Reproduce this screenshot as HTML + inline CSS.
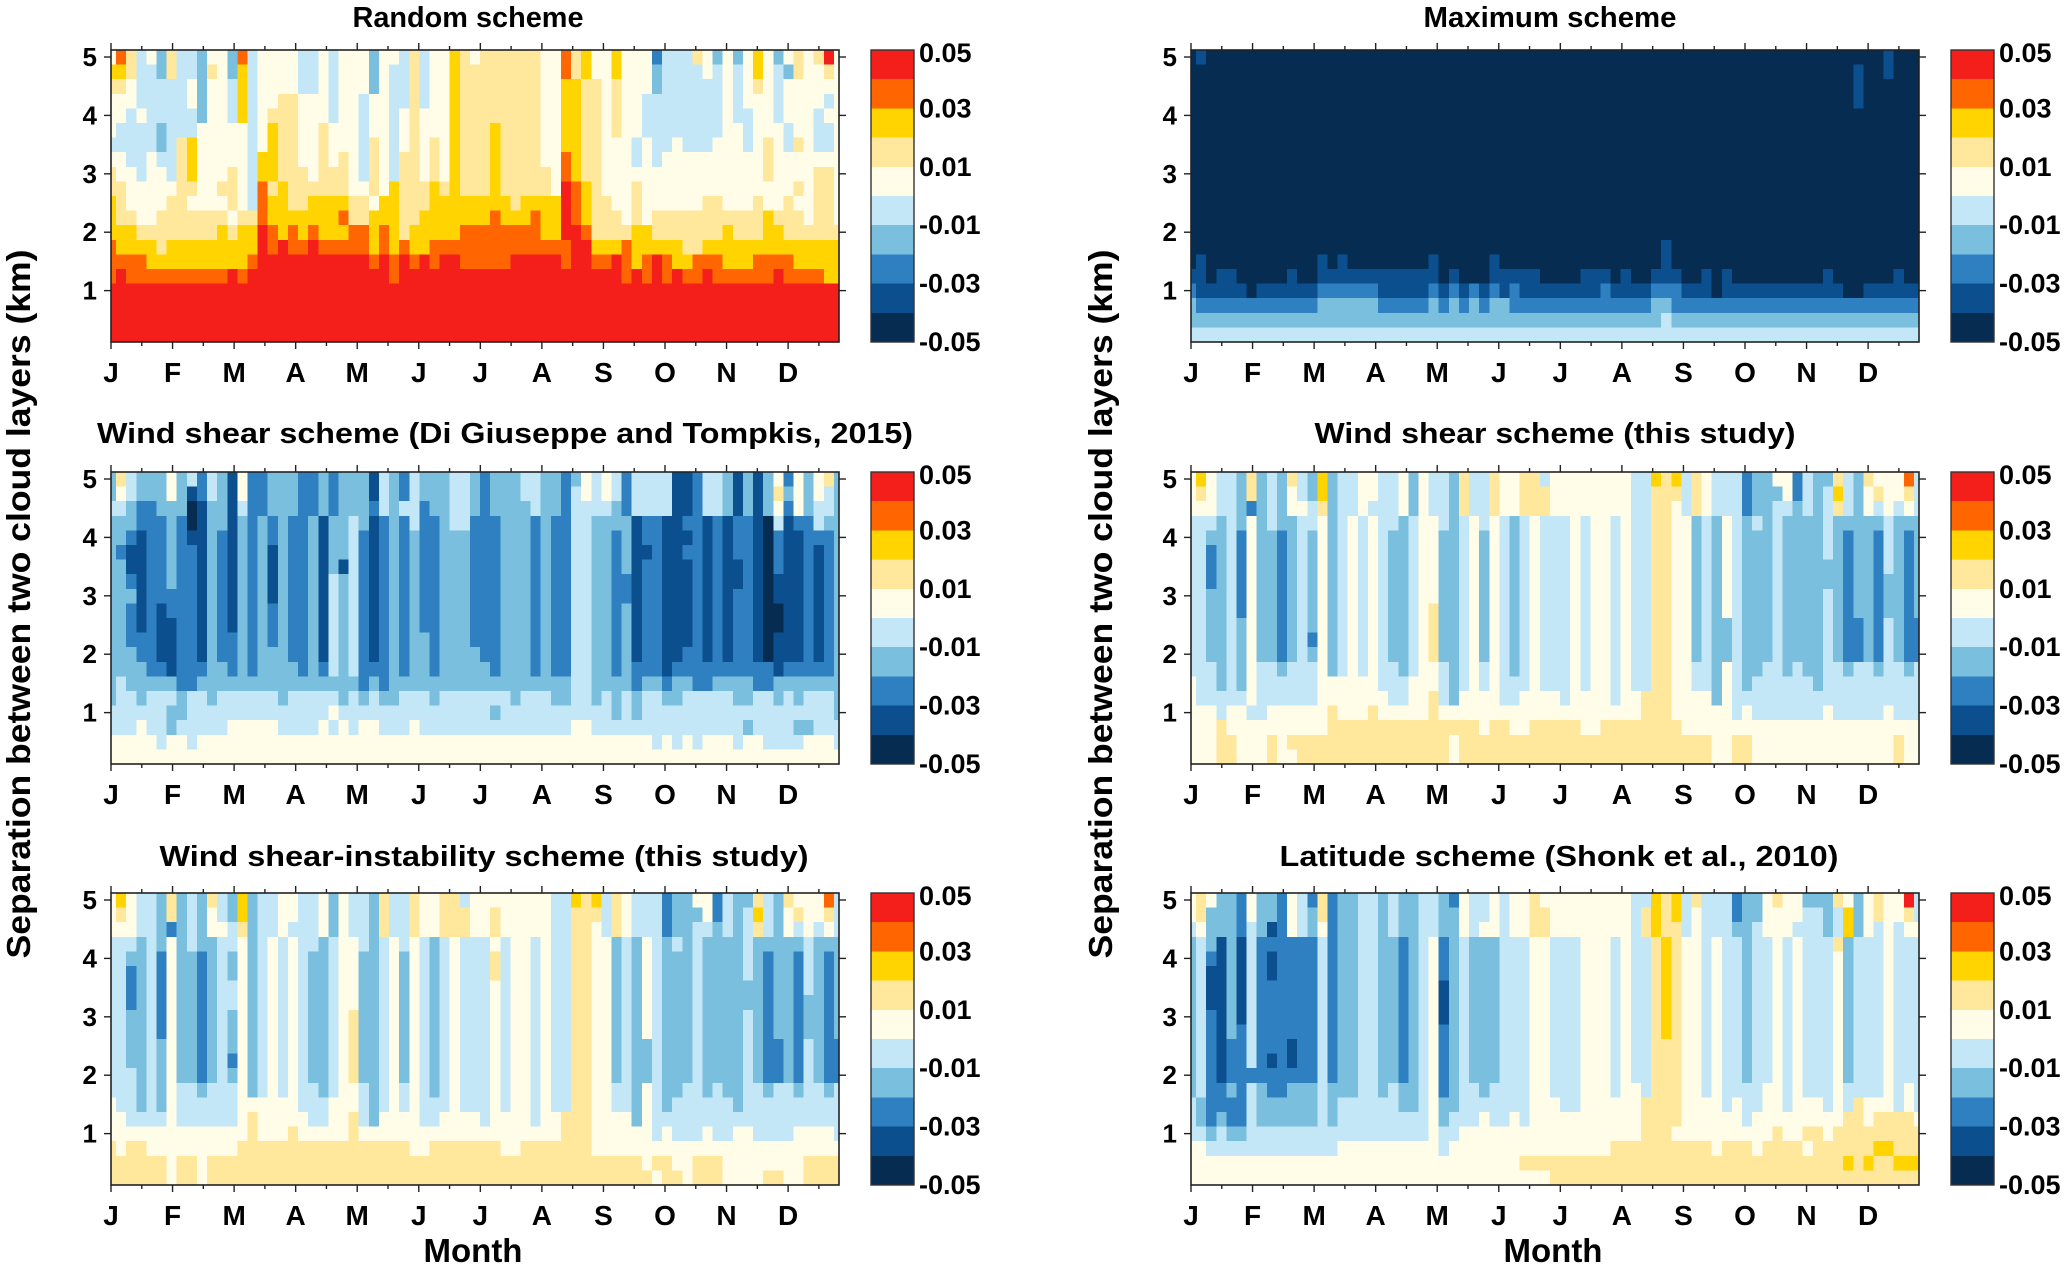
<!DOCTYPE html>
<html><head><meta charset="utf-8"><style>
html,body{margin:0;padding:0;background:#fff;}
svg{display:block;font-family:"Liberation Sans",Arial,sans-serif;}
</style></head><body>
<svg id="fig" xmlns="http://www.w3.org/2000/svg" width="2067" height="1266" viewBox="0 0 2067 1266">
<rect x="0" y="0" width="2067" height="1266" fill="#fff"/>
</svg>
<script>
const months = ["J","F","M","A","M","J","J","A","S","O","N","D"];
const yTicks = [1,2,3,4,5];
const cbLabels = ["0.05","0.03","0.01","-0.01","-0.03","-0.05"];
const levelColors = ["#062c52","#0b4f8f","#2e80c1","#7bbfdf","#c3e7f6","#fffde8","#ffe79c","#ffd400","#ff6500","#f41f1b"];

const randomRows = [
"5864536443 5538455554 4545553554 6455765666 6665586755 7555244465 3535753565 695",
"7764436443 6537455554 4545553544 6455766666 6665586755 7555344445 4545754365 565",
"6654444453 5547455554 4545553544 6455766666 6665577665 6555344444 4545654555 555",
"5554444453 5547455665 5545545544 6455766666 6665577665 6554444444 4545554555 545",
"5545444443 5547456665 5545545545 6555766666 6665577665 6554444444 4544554555 455",
"5444434445 5555457665 5655545545 6555766676 6665577665 6554444444 4554555455 445",
"4444434675 5555457665 5655546545 6565766676 6665577665 5545445444 5554565465 445",
"5544544675 5555477665 5656546546 6565766676 6665587665 5545455555 5555565555 555",
"6554554675 5565477666 5666546546 6565766676 6666587665 5555555555 5555565555 665",
"6655555665 5665486766 6666556576 6676766676 6666598765 5565555555 5555555565 665",
"7655556655 5565487766 7777665776 6677777777 6777798766 5565555556 6555655655 665",
"7665566666 6656687777 7778667776 6777777787 7787798766 6565666666 6666676665 665",
"7776666666 6767798787 8777887876 7777788888 8887799866 6677666666 6766677666 666",
"8777767777 7777798988 9888887878 7788888888 8888889977 7877777667 7777777777 777",
"8888777777 7777899999 9999998989 8989988888 9999989988 9878987788 8777888877 777",
"8988888888 8898999999 9999999989 9999999999 9999999999 9898989889 8888889888 877",
"9999999999 9999999999 9999999999 9999999999 9999999999 9999999999 9999999999 999",
"9999999999 9999999999 9999999999 9999999999 9999999999 9999999999 9999999999 999",
"9999999999 9999999999 9999999999 9999999999 9999999999 9999999999 9999999999 999",
"9999999999 9999999999 9999999999 9999999999 9999999999 9999999999 9999999999 999"
];
const maximumRows = [
"0100000000 0000000000 0000000000 0000000000 0000000000 0000000000 0000000001 000",
"0000000000 0000000000 0000000000 0000000000 0000000000 0000000000 0000001001 000",
"0000000000 0000000000 0000000000 0000000000 0000000000 0000000000 0000001000 000",
"0000000000 0000000000 0000000000 0000000000 0000000000 0000000000 0000001000 000",
"0000000000 0000000000 0000000000 0000000000 0000000000 0000000000 0000000000 000",
"0000000000 0000000000 0000000000 0000000000 0000000000 0000000000 0000000000 000",
"0000000000 0000000000 0000000000 0000000000 0000000000 0000000000 0000000000 000",
"0000000000 0000000000 0000000000 0000000000 0000000000 0000000000 0000000000 000",
"0000000000 0000000000 0000000000 0000000000 0000000000 0000000000 0000000000 000",
"0000000000 0000000000 0000000000 0000000000 0000000000 0000000000 0000000000 000",
"0000000000 0000000000 0000000000 0000000000 0000000000 0000000000 0000000000 000",
"0000000000 0000000000 0000000000 0000000000 0000000000 0000000000 0000000000 000",
"0000000000 0000000000 0000000000 0000000000 0000000000 0000000000 0000000000 000",
"0000000000 0000000000 0000000000 0000000000 0000000100 0000000000 0000000000 000",
"0100000000 0001010000 0000100000 1000000000 0000000100 0000000000 0000000000 000",
"1101100000 1001111111 1111101000 1111100001 1101001110 0101000000 0001000000 100",
"2111110111 1112222221 1111212121 2121111111 1211112221 1101111111 1111100111 111",
"3222222222 2223333332 2222323232 3322222222 2222223322 2222222222 2222222222 222",
"3333333333 3333333333 3333333333 3333333333 3333333433 3333333333 3333333333 333",
"4444444444 4444444444 4444444444 4444444444 4444444444 4444444444 4444444444 444"
];
const giuseppeRows = [
"3643335342 4315223332 2323331432 4333443233 3443323545 4244441124 4313135253 563",
"3543335312 4315223332 2323331432 4333443233 3443324545 4244441124 4313136353 543",
"4432233301 3314223332 2323332434 4233443233 3343324444 3244441124 4313135253 443",
"3332223201 3313232322 3133431232 4223442223 3323224433 3312211221 2122104122 433",
"3321223211 3213232322 3133421232 3223332223 3323224433 2312211121 2122102112 223",
"3211223221 3213231322 3133421232 3223332223 3323224433 2311211221 2122102112 123",
"3311223221 3213231322 3131421232 3223332223 3323224433 2312211121 2112102112 123",
"3321223221 3213231322 3143421232 3223332223 3323224433 2212211121 2112101112 123",
"3331222221 3213231322 3143421232 3223332223 3323224433 2212211121 2122101112 123",
"3321212221 3213232322 3143421232 3223332223 3323224433 2312211121 2122100112 123",
"3321211221 3213232322 3143421232 3223332223 3323224433 2312211121 2122100112 123",
"3322211221 3223232322 3143421232 3323332223 3323224433 2312211121 2122101112 123",
"3332211221 3223233322 3143421232 3323333223 3323224433 2312211221 2122101112 123",
"3333221222 3323233332 3243422232 3323333323 3323224433 2322212222 2222221222 223",
"3433333223 3333333333 3333323233 3333333333 3333334433 3323323322 3333223333 333",
"3443444344 3444444344 4443434334 4434444444 3444334434 3434433444 4433443434 443",
"4444443344 4444444444 4454444444 4444444434 4444444444 3434444444 4444444444 443",
"4445443444 4455555444 4545455444 5444444444 4444445544 4444444444 4443444433 444",
"5555545545 5555555555 5555555555 5555555555 5555555555 5555454545 5545544445 554",
"5555555555 5555555555 5555555555 5555555555 5555555555 5555555555 5555555555 555"
];
const shearRows = [
"5754436343 6437344554 4535443644 6556645555 5555447674 6544423355 2433643655 584",
"5654436343 5437344554 4535443644 6556665555 5555446664 6544423335 2434743565 564",
"5554432343 5546344544 4535443644 6556665555 5555446654 6544423344 3434643545 454",
"4443435343 3445345454 4345543454 5434544454 5545446655 3435434343 3334333334 333",
"4433425332 3435345454 3345533453 5434544454 5545446655 3435433343 3334323324 323",
"4423425332 3435345454 3345533453 5434544454 5545446655 3435433343 3334323324 323",
"4423425332 3435345454 3345533453 5434544454 5545446655 3435433343 3333323324 323",
"4423425332 3435345454 3345533453 5434544454 5545446655 3435433343 3333323323 323",
"4433425332 3435345454 3345533453 5434544454 5545446655 3435433343 3334323323 323",
"4433425332 3435345454 3345633453 5434544454 5545446655 3435433343 3334323323 323",
"4433435332 3435345454 3345633453 5434544454 5545446655 3433433343 3334322324 322",
"4433435332 3425345454 3345633453 5434544454 5545446655 3433433343 3334322324 322",
"4433435332 3435345454 3345633453 5434544454 5545446655 3433433343 3334322324 322",
"4443435443 4445345454 4345543454 5434544454 5545446655 4435433443 4334434434 434",
"5443435444 4445555554 4455543454 5444544454 5545446655 4435434444 4434444444 444",
"5444445444 4445555555 4455643555 5445555455 5545566655 5535444444 4444444444 444",
"5554554455 5555655565 5555655555 5555555555 5555566655 5555454444 4445444445 444",
"5556555555 5555666666 6666666665 6655666665 5666666665 5555555555 5555555555 555",
"5556655565 6666666666 6666665666 6666666666 6666666666 6655665555 5555555555 655",
"5556655565 5666666666 6666665666 6666666666 6666666666 6655665555 5555555555 655"
];
const instabilityRows = [
"5754436343 6437344554 4535443644 6556645555 5555447674 6544423355 2433643655 584",
"5654436343 5437344554 4535443644 6556665565 5555446664 6544423335 2434743565 564",
"5554432343 5546344544 4535443644 6556665565 5555446654 6544423344 3434643545 454",
"4443435343 3445345454 4345543454 5434544454 5545446655 3435434343 3334333334 333",
"4433425332 3435345454 3345533453 5434544464 5545446655 3435433343 3334323324 323",
"4423425332 3435345454 3345533453 5434544464 5545446655 3435433343 3334323324 323",
"4423425332 3445345454 3345533453 5434544454 5545446655 3435433343 3333323324 323",
"4423425332 3445345454 3345533453 5434544454 5545446655 3435433343 3333323323 323",
"4433425332 3435345454 3345633453 5434544454 5545446655 3435433343 3334323323 323",
"4433425332 3435345454 3345633453 5434544454 5545446655 3435433343 3334323323 323",
"4433435332 3435345454 3345633453 5434544454 5545446655 3433433343 3334322324 322",
"4433435332 3425345454 3345633453 5434544454 5545446655 3433433343 3334322324 322",
"4443435332 3435345454 3345633453 5434544454 5545446655 3433433343 3334322324 322",
"4443435443 4445345454 4345543454 5434544454 5545446655 4435433443 4334434434 434",
"5443435444 4445555554 4455543454 5444544454 5545446655 4435434444 4434444444 444",
"5544445444 4445655555 4455643555 5445555455 5545566655 5535444444 4444444444 444",
"5555555555 5555655565 5555655555 5555555555 5555566655 5555454445 4455444455 554",
"6566555555 5556666666 6666666666 5566666665 5666666655 5555555555 5555555555 555",
"6666665665 6666666666 6666666666 6666666666 6666666666 6665665566 6555555556 666",
"6666665665 6666666666 6666666666 6666666666 6666666666 6666566566 6555566556 666"
];
const latitudeRows = [
"5653325332 5426233443 4334432544 5455655555 5555447674 6444233565 5333653565 594",
"5633325332 5436233443 4334433544 5455665555 5555467674 5444233555 5443473565 564",
"4533324312 5435233443 4334433545 5455665555 5555467664 5444334555 4443473545 455",
"3431314222 2224233443 3234523433 3444554445 5545446765 5454434454 5444634445 444",
"3421314212 2224233443 3234523433 3444554445 5545446765 5454434454 5444534445 444",
"3411314212 2224233443 3234523433 3444554445 5545446765 5454434454 5444534445 444",
"3411314222 2224233443 3234513433 3444554445 5545446765 5454434454 5444534445 444",
"3411314222 2224233443 3234513433 3444554445 5545446765 5454434454 5444534445 444",
"3421314222 2224233443 3234513433 3444554445 5545446765 5454434454 5444534445 444",
"3421324222 2224233443 3234523433 3444554445 5545446765 5454434454 5444534445 444",
"3421224222 1224233443 3234523433 3444554445 5545446665 5454434454 5444534445 444",
"3421224212 1224233443 3234523433 3444554445 5545446665 5454434454 5444534445 444",
"3421222222 2224233443 3234523433 3444554445 5545446665 5454434454 5444534445 444",
"3422324322 3334333443 4334523443 4444554445 5545546665 5454444554 5444544445 454",
"4322224333 3334344444 4334533444 4444555445 5555566665 5554544554 5554546555 454",
"4323224333 3334344444 4444534445 4454555555 5555566665 5555545555 5555566566 665",
"4434334444 4444444444 4444544555 5555555555 5555566655 5555555565 5665666666 666",
"5544444444 4444455555 5555545555 5555555555 5566666666 6656665666 6566666677 666",
"5555555555 5555555555 5555555555 5556666666 6666666666 6666666666 6666676766 777",
"5555555555 5555555555 5555555555 5555556666 6666666666 6666666666 6666666666 666"
];

const NS = "http://www.w3.org/2000/svg";
const svg = document.getElementById("fig");
const PW = 728, PH = 292, NCOL = 72, NROW = 20;
const KM_TOP = 5.12, KM_SPAN = 5.0, ROW_KM = 0.25;
const MONTH_FRAC = 127/1502;

function mk(tag, attrs, parent){
  const e = document.createElementNS(NS, tag);
  for (const k in attrs) e.setAttribute(k, attrs[k]);
  (parent||svg).appendChild(e);
  return e;
}

function drawPanel(rows, L, T, title, titleX, titleY, titleW, key){
  const g = mk("g", {});
  
  
  const xs = u => L + u / NCOL * PW;
  const ys = km => T + (KM_TOP - km) / KM_SPAN * PH;
  const cells = mk("g", {"shape-rendering":"crispEdges"}, g);
  
  
  for (let r = 0; r < NROW; r++){
    const s = (rows[r] || "").replace(/ /g, "");
    const yTop = ys(KM_TOP - ROW_KM * r), yBot = ys(KM_TOP - ROW_KM * (r + 1));
    for (let k = 0; k <= NCOL; k++){
      const ch = s[k] !== undefined ? s[k] : "5";
      const v = parseInt(ch, 10);
      const x0 = Math.max(L, xs(k - 0.5)), x1 = Math.min(L + PW, xs(k + 0.5));
      const c = mk("rect", {x: x0.toFixed(2), y: yTop.toFixed(2), width: (x1 - x0 + 0.6).toFixed(2), height: (yBot - yTop + 0.6).toFixed(2), fill: levelColors[v]}, cells);
      
      
    }
  }
  // frame
  const fr = mk("rect", {x: L, y: T, width: PW, height: PH, fill: "none", stroke: "#222", "stroke-width": 1.6}, g);
  
  
  // x ticks
  for (let i = 0; i < 24; i++){
    const x = L + i * MONTH_FRAC / 2 * PW;
    if (x > L + PW) break;
    const len = i % 2 === 0 ? 7 : 4;
    const t1 = mk("line", {x1: x, x2: x, y1: T + PH, y2: T + PH + len, stroke: "#222", "stroke-width": 1.4}, g);
    
    
    const t2 = mk("line", {x1: x, x2: x, y1: T, y2: T - len, stroke: "#222", "stroke-width": 1.4}, g);
    
    
  }
  months.forEach((m, i) => {
    const x = L + i * MONTH_FRAC * PW;
    const t = mk("text", {x: x, y: T + PH + 40, "text-anchor": "middle", "font-size": 28, "font-weight": "bold", fill: "#000"}, g);
    t.textContent = m;
    
    
  });
  yTicks.forEach(v => {
    const y = ys(v);
    const a = mk("line", {x1: L - 7, x2: L, y1: y, y2: y, stroke: "#222", "stroke-width": 1.4}, g);
    
    
    const b = mk("line", {x1: L + PW, x2: L + PW + 7, y1: y, y2: y, stroke: "#222", "stroke-width": 1.4}, g);
    
    
    const t = mk("text", {x: L - 14, y: y + 9, "text-anchor": "end", "font-size": 26, "font-weight": "bold", fill: "#000"}, g);
    t.textContent = v;
    
    
  });
  const tt = mk("text", {x: titleX, y: titleY, "text-anchor": "middle", "font-size": 29, "font-weight": "bold", fill: "#000", textLength: titleW, lengthAdjust: "spacingAndGlyphs", "font-family": "'Liberation Sans Narrow','Liberation Sans',sans-serif"}, g);
  tt.textContent = title;
  
  
  // colorbar
  const cbX = L + PW + 32, cbW = 43;
  const cb = mk("g", {"shape-rendering": "crispEdges"}, g);
  
  
  for (let i = 0; i < 10; i++){
    const lv = 9 - i;
    const c = mk("rect", {x: cbX, y: T + i * PH / 10, width: cbW, height: PH / 10 + 0.5, fill: levelColors[lv]}, cb);
    
    
  }
  const cf = mk("rect", {x: cbX, y: T, width: cbW, height: PH, fill: "none", stroke: "#333", "stroke-width": 1.4}, g);
  
  
  cbLabels.forEach((lab, i) => {
    const y = T + i * PH / 5 + 9 + (i === 0 ? 3 : 0);
    const t = mk("text", {x: cbX + cbW + 5, y: y, "font-size": 27, "font-weight": "bold", fill: "#000"}, g);
    t.textContent = lab;
    
    
  });
}

drawPanel(randomRows, 111, 50, "Random scheme", 468, 27, 231, "random");
drawPanel(maximumRows, 1191, 50, "Maximum scheme", 1550, 27, 253, "maximum");
drawPanel(giuseppeRows, 111, 472, "Wind shear scheme (Di Giuseppe and Tompkis, 2015)", 505, 443, 816, "wind-shear-dg");
drawPanel(shearRows, 1191, 472, "Wind shear scheme (this study)", 1555, 443, 481, "wind-shear-this");
drawPanel(instabilityRows, 111, 893, "Wind shear-instability scheme (this study)", 484, 866, 649, "wind-shear-instability");
drawPanel(latitudeRows, 1191, 893, "Latitude scheme (Shonk et al., 2010)", 1559, 866, 559, "latitude");

const m1 = mk("text", {x: 473, y: 1262, "text-anchor": "middle", "font-size": 33, "font-weight": "bold", fill: "#000"});
m1.textContent = "Month";


const m2 = mk("text", {x: 1553, y: 1262, "text-anchor": "middle", "font-size": 33, "font-weight": "bold", fill: "#000"});
m2.textContent = "Month";


const y1 = mk("text", {x: 0, y: 0, "text-anchor": "middle", "font-size": 33, "font-weight": "bold", fill: "#000", textLength: 709, lengthAdjust: "spacingAndGlyphs", transform: "translate(30,604) rotate(-90)"});
y1.textContent = "Separation between two cloud layers (km)";


const y2 = mk("text", {x: 0, y: 0, "text-anchor": "middle", "font-size": 33, "font-weight": "bold", fill: "#000", textLength: 709, lengthAdjust: "spacingAndGlyphs", transform: "translate(1112,604) rotate(-90)"});
y2.textContent = "Separation between two cloud layers (km)";


</script>
</body></html>
